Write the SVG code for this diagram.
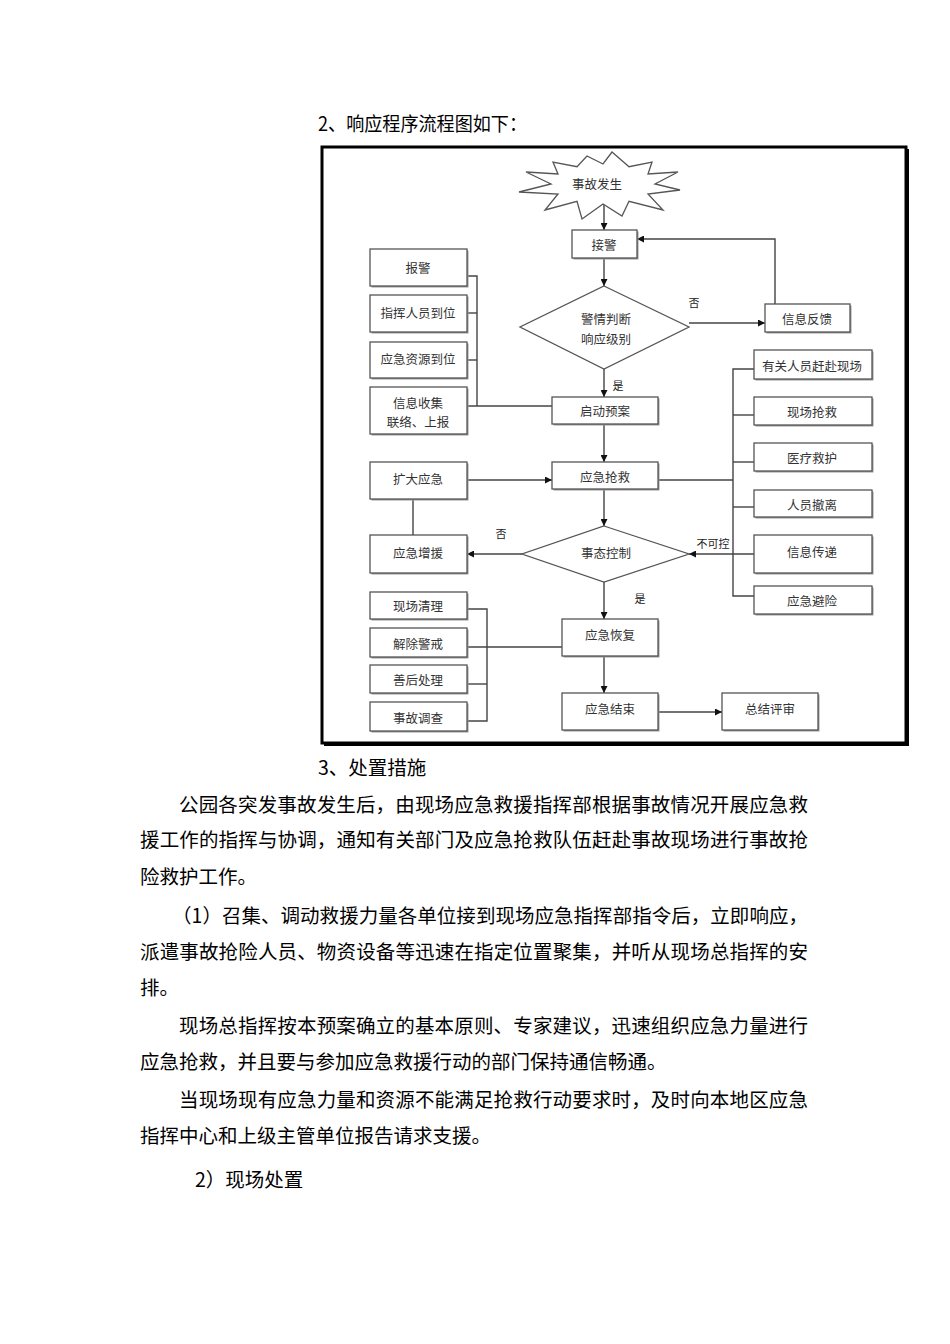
<svg xmlns="http://www.w3.org/2000/svg" width="950" height="1344" viewBox="0 0 950 1344">
<defs>
<marker id="arr" viewBox="0 0 10 10" refX="10" refY="5" markerWidth="7" markerHeight="7" markerUnits="userSpaceOnUse" orient="auto">
<path d="M0,0 L10,5 L0,10 z" fill="#111"/>
</marker>
</defs>
<style>
.bx{fill:#fff;stroke:#555;stroke-width:1.3}
.sh{fill:#999}
.t{font-family:"Noto Sans CJK SC","Noto Sans",sans-serif;font-size:12.5px;fill:#333;text-anchor:middle;dominant-baseline:central}
.lb{font-family:"Noto Sans CJK SC","Noto Sans",sans-serif;font-size:11px;fill:#222;text-anchor:middle;dominant-baseline:central}
.c{fill:none;stroke:#444;stroke-width:1.4}
.ca{fill:none;stroke:#444;stroke-width:1.4;marker-end:url(#arr)}
.body{font-family:"Noto Sans CJK SC","Noto Sans",sans-serif;font-size:19.5px;fill:#000}
</style>
<rect width="950" height="1344" fill="#fff"/>

<text class="body" x="318" y="131" font-size="18.5" textLength="209" lengthAdjust="spacingAndGlyphs">2、响应程序流程图如下：</text>

<g id="frame">
<rect x="322" y="147" width="584" height="596" fill="none" stroke="#000" stroke-width="3"/>
<line x1="908" y1="149" x2="908" y2="745" stroke="#000" stroke-width="2"/>
<line x1="324" y1="745" x2="909" y2="745" stroke="#000" stroke-width="2"/>
</g>

<g id="connectors">
<line class="ca" x1="604" y1="204" x2="604" y2="230"/>
<line class="ca" x1="604" y1="258" x2="604" y2="286"/>
<line class="ca" x1="689" y1="323" x2="765" y2="323"/>
<polyline class="ca" points="775,304 775,239 637,239"/>
<line class="ca" x1="604" y1="369" x2="604" y2="397"/>
<line class="ca" x1="604" y1="424" x2="604" y2="462"/>
<line class="ca" x1="604" y1="489" x2="604" y2="526"/>
<line class="ca" x1="522" y1="554" x2="467" y2="554"/>
<line class="ca" x1="467" y1="480" x2="552" y2="480"/>
<line class="c" x1="413" y1="499" x2="413" y2="535"/>
<line class="ca" x1="754" y1="554" x2="689" y2="554"/>
<line class="ca" x1="604" y1="582" x2="604" y2="619"/>
<line class="ca" x1="604" y1="656" x2="604" y2="693"/>
<line class="ca" x1="658" y1="712" x2="722" y2="712"/>
<polyline class="c" points="467,276 477,276 477,406"/>
<line class="c" x1="467" y1="313" x2="477" y2="313"/>
<line class="c" x1="467" y1="360" x2="477" y2="360"/>
<line class="c" x1="467" y1="406" x2="552" y2="406"/>
<line class="c" x1="658" y1="480" x2="733" y2="480"/>
<polyline class="c" points="754,369 733,369 733,596 754,596"/>
<line class="c" x1="733" y1="415" x2="754" y2="415"/>
<line class="c" x1="733" y1="462" x2="754" y2="462"/>
<line class="c" x1="733" y1="507" x2="754" y2="507"/>
<polyline class="c" points="467,609 487,609 487,721 467,721"/>
<line class="c" x1="467" y1="684" x2="487" y2="684"/>
<line class="c" x1="467" y1="647" x2="562" y2="647"/>
<text class="lb" x="694" y="302">否</text>
<text class="lb" x="618" y="385">是</text>
<text class="lb" x="501" y="533">否</text>
<text class="lb" x="713" y="543">不可控</text>
<text class="lb" x="640" y="598">是</text>
</g>

<g id="n-start">
<polygon points="680,190 648,194 663,210 629,201.3 622,216 603,204 582,219 577,201.3 545,210 558,194 519,192 551,184 526,172 558,174 553,162 577,166.7 587,156 603,164 612,152 629,166.7 652,162 648,174 678,172 655,184" fill="#fff" stroke="#555" stroke-width="1.3"/>
<text class="t" x="597" y="183">事故发生</text>
</g>

<g id="n-jiejing"><rect class="sh" x="573.5" y="231.5" width="65" height="28"/><rect class="bx" x="572" y="230" width="65" height="28"/><text class="t" x="604" y="244">接警</text></g>

<g id="n-judge"><polygon points="604,286 689,327 604,369 520,327" fill="#fff" stroke="#555" stroke-width="1.3"/><text class="t" x="606" y="318">警情判断</text><text class="t" x="606" y="338">响应级别</text></g>

<g id="n-feedback"><rect class="sh" x="766.5" y="305.5" width="85" height="28"/><rect class="bx" x="765" y="304" width="85" height="28"/><text class="t" x="807" y="318">信息反馈</text></g>

<g id="n-baojing"><rect class="sh" x="371.5" y="250.5" width="97" height="37"/><rect class="bx" x="370" y="249" width="97" height="37"/><text class="t" x="418" y="267">报警</text></g>
<g id="n-zhihui"><rect class="sh" x="371.5" y="296.5" width="97" height="37"/><rect class="bx" x="370" y="295" width="97" height="37"/><text class="t" x="418" y="312">指挥人员到位</text></g>
<g id="n-ziyuan"><rect class="sh" x="371.5" y="343.5" width="97" height="36"/><rect class="bx" x="370" y="342" width="97" height="36"/><text class="t" x="418" y="358">应急资源到位</text></g>
<g id="n-xinxi"><rect class="sh" x="371.5" y="388.5" width="97" height="47"/><rect class="bx" x="370" y="387" width="97" height="47"/><text class="t" x="418" y="402">信息收集</text><text class="t" x="418" y="421">联络、上报</text></g>

<g id="n-qidong"><rect class="sh" x="553.5" y="398.5" width="106" height="27"/><rect class="bx" x="552" y="397" width="106" height="27"/><text class="t" x="605" y="410">启动预案</text></g>
<g id="n-qiangjiu"><rect class="sh" x="553.5" y="463.5" width="106" height="27"/><rect class="bx" x="552" y="462" width="106" height="27"/><text class="t" x="605" y="476">应急抢救</text></g>
<g id="n-kuoda"><rect class="sh" x="371.5" y="463.5" width="97" height="37"/><rect class="bx" x="370" y="462" width="97" height="37"/><text class="t" x="418" y="478">扩大应急</text></g>
<g id="n-zengyuan"><rect class="sh" x="371.5" y="536.5" width="97" height="38"/><rect class="bx" x="370" y="535" width="97" height="38"/><text class="t" x="418" y="552">应急增援</text></g>

<g id="n-control"><polygon points="604,526 689,554 604,582 522,554" fill="#fff" stroke="#555" stroke-width="1.3"/><text class="t" x="606" y="552">事态控制</text></g>

<g id="n-r1"><rect class="sh" x="755.5" y="351.5" width="118" height="29"/><rect class="bx" x="754" y="350" width="118" height="29"/><text class="t" x="812" y="365">有关人员赶赴现场</text></g>
<g id="n-r2"><rect class="sh" x="755.5" y="398.5" width="118" height="28"/><rect class="bx" x="754" y="397" width="118" height="28"/><text class="t" x="812" y="411">现场抢救</text></g>
<g id="n-r3"><rect class="sh" x="755.5" y="444.5" width="118" height="28"/><rect class="bx" x="754" y="443" width="118" height="28"/><text class="t" x="812" y="457">医疗救护</text></g>
<g id="n-r4"><rect class="sh" x="755.5" y="491.5" width="118" height="27"/><rect class="bx" x="754" y="490" width="118" height="27"/><text class="t" x="812" y="504">人员撤离</text></g>
<g id="n-r5"><rect class="sh" x="755.5" y="536.5" width="118" height="38"/><rect class="bx" x="754" y="535" width="118" height="38"/><text class="t" x="812" y="551">信息传递</text></g>
<g id="n-r6"><rect class="sh" x="755.5" y="587.5" width="118" height="28"/><rect class="bx" x="754" y="586" width="118" height="28"/><text class="t" x="812" y="600">应急避险</text></g>

<g id="n-b1"><rect class="sh" x="371.5" y="593.5" width="97" height="27"/><rect class="bx" x="370" y="592" width="97" height="27"/><text class="t" x="418" y="605">现场清理</text></g>
<g id="n-b2"><rect class="sh" x="371.5" y="629.5" width="97" height="29"/><rect class="bx" x="370" y="628" width="97" height="29"/><text class="t" x="418" y="643">解除警戒</text></g>
<g id="n-b3"><rect class="sh" x="371.5" y="666.5" width="97" height="28"/><rect class="bx" x="370" y="665" width="97" height="28"/><text class="t" x="418" y="679">善后处理</text></g>
<g id="n-b4"><rect class="sh" x="371.5" y="703.5" width="97" height="29"/><rect class="bx" x="370" y="702" width="97" height="29"/><text class="t" x="418" y="717">事故调查</text></g>

<g id="n-huifu"><rect class="sh" x="563.5" y="620.5" width="96" height="37"/><rect class="bx" x="562" y="619" width="96" height="37"/><text class="t" x="610" y="634">应急恢复</text></g>
<g id="n-jieshu"><rect class="sh" x="563.5" y="694.5" width="96" height="37"/><rect class="bx" x="562" y="693" width="96" height="37"/><text class="t" x="610" y="708">应急结束</text></g>
<g id="n-pingshen"><rect class="sh" x="723.5" y="694.5" width="96" height="37"/><rect class="bx" x="722" y="693" width="96" height="37"/><text class="t" x="770" y="708">总结评审</text></g>

<g id="body-text">
<text class="body" x="318" y="775" font-size="18.5">3、处置措施</text>
<text class="body" x="179" y="812" textLength="629" lengthAdjust="spacing">公园各突发事故发生后，由现场应急救援指挥部根据事故情况开展应急救</text>
<text class="body" x="140" y="847" textLength="668" lengthAdjust="spacing">援工作的指挥与协调，通知有关部门及应急抢救队伍赶赴事故现场进行事故抢</text>
<text class="body" x="140" y="884">险救护工作。</text>
<text class="body" x="172" y="923" textLength="636" lengthAdjust="spacing">（1）召集、调动救援力量各单位接到现场应急指挥部指令后，立即响应，</text>
<text class="body" x="140" y="959" textLength="668" lengthAdjust="spacing">派遣事故抢险人员、物资设备等迅速在指定位置聚集，并听从现场总指挥的安</text>
<text class="body" x="140" y="995">排。</text>
<text class="body" x="179" y="1033" textLength="629" lengthAdjust="spacing">现场总指挥按本预案确立的基本原则、专家建议，迅速组织应急力量进行</text>
<text class="body" x="140" y="1069">应急抢救，并且要与参加应急救援行动的部门保持通信畅通。</text>
<text class="body" x="179" y="1107" textLength="629" lengthAdjust="spacing">当现场现有应急力量和资源不能满足抢救行动要求时，及时向本地区应急</text>
<text class="body" x="140" y="1143">指挥中心和上级主管单位报告请求支援。</text>
<text class="body" x="195" y="1187" font-size="18.5">2）现场处置</text>
</g>
</svg>
